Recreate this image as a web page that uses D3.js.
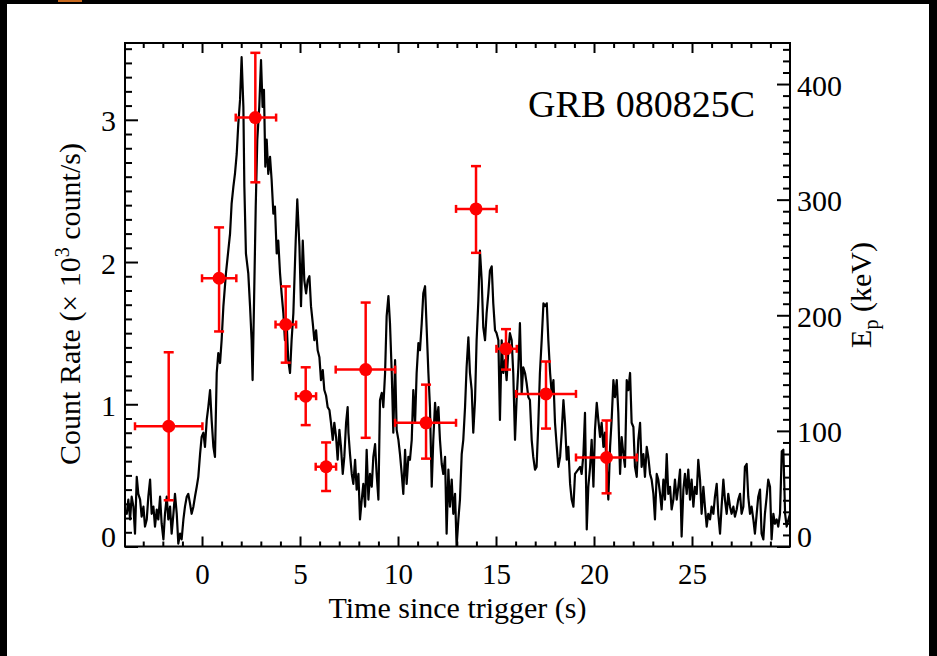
<!DOCTYPE html>
<html>
<head>
<meta charset="utf-8">
<script src="https://cdn.jsdelivr.net/npm/d3@7"></script>
<style>
  body { margin: 0; background: #fff; }
  svg { display: block; }
  text { font-family: "Liberation Serif", "Times New Roman", serif; fill: #000; }
</style>
</head>
<body>
<svg id="chart" width="937" height="656"></svg>
<script>
// Light curve of GRB 080825C: [time since trigger (s), count rate (10^3 count/s)]
const countRate = [
  [-3.93,0.25],[-3.84,0.23],[-3.76,0.33],[-3.67,0.19],[-3.59,0.35],[-3.50,0.28],[-3.42,0.09],[-3.33,0.49],
  [-3.25,0.37],[-3.16,0.33],[-3.08,0.21],[-2.99,0.28],[-2.91,0.14],[-2.82,0.19],[-2.74,0.35],[-2.65,0.47],
  [-2.57,0.23],[-2.48,0.28],[-2.40,0.14],[-2.31,0.26],[-2.23,0.19],[-2.14,0.35],[-2.06,0.16],[-1.97,0.05],
  [-1.89,0.23],[-1.80,0.35],[-1.72,0.19],[-1.63,0.28],[-1.55,0.09],[-1.46,0.23],[-1.38,0.37],[-1.29,0.23],
  [-1.21,0.02],[-1.12,0.09],[-1.04,0.05],[-0.95,0.19],[-0.87,0.28],[-0.78,0.35],[-0.70,0.37],[-0.61,0.30],
  [-0.53,0.23],[-0.44,0.28],[-0.36,0.35],[-0.27,0.42],[-0.19,0.49],[-0.10,0.65],[-0.02,0.77],[0.07,0.80],
  [0.15,0.70],[0.24,0.89],[0.32,0.98],[0.41,1.10],[0.49,0.89],[0.58,0.70],[0.66,0.63],[0.75,1.22],
  [0.83,1.36],[0.92,1.29],[1.00,1.45],[1.09,1.69],[1.22,1.92],[1.34,2.08],[1.43,2.20],[1.51,2.41],
  [1.60,2.53],[1.68,2.62],[1.77,2.76],[1.85,2.97],[1.94,3.14],[2.02,3.44],[2.11,3.09],[2.16,2.53],
  [2.24,2.06],[2.36,1.92],[2.45,1.69],[2.53,1.45],[2.58,1.17],[2.65,1.69],[2.74,2.39],[2.82,2.86],
  [2.92,3.09],[3.01,3.42],[3.09,3.09],[3.16,3.21],[3.23,2.67],[3.30,2.86],[3.38,2.62],[3.47,2.74],
  [3.55,2.58],[3.64,2.34],[3.72,2.39],[3.81,2.06],[3.89,2.15],[3.98,1.92],[4.06,1.78],[4.15,1.64],
  [4.23,1.45],[4.32,1.57],[4.40,1.31],[4.49,1.22],[4.57,1.45],[4.66,1.64],[4.78,2.15],[4.86,2.44],
  [4.97,2.11],[5.05,1.69],[5.14,2.15],[5.22,1.87],[5.31,1.78],[5.39,1.87],[5.48,1.90],[5.56,1.69],
  [5.65,1.57],[5.73,1.45],[5.82,1.52],[5.90,1.38],[5.99,1.33],[6.07,1.17],[6.16,1.24],[6.24,1.10],
  [6.33,1.06],[6.41,0.98],[6.50,0.96],[6.58,0.87],[6.67,0.75],[6.75,0.87],[6.84,0.77],[6.92,0.61],
  [7.01,0.82],[7.09,0.70],[7.18,0.51],[7.26,0.63],[7.35,0.87],[7.43,0.98],[7.47,0.80],[7.55,0.65],
  [7.64,0.51],[7.72,0.44],[7.81,0.61],[7.89,0.40],[7.98,0.51],[8.06,0.19],[8.15,0.33],[8.23,0.44],
  [8.32,0.28],[8.40,0.68],[8.49,0.33],[8.57,0.51],[8.66,0.42],[8.74,0.63],[8.83,0.72],[8.91,0.51],
  [9.00,0.33],[9.08,1.03],[9.17,1.08],[9.25,0.98],[9.34,1.22],[9.42,1.62],[9.51,1.76],[9.59,1.57],
  [9.68,1.22],[9.76,0.80],[9.85,1.31],[9.93,0.82],[10.02,0.75],[10.10,0.65],[10.19,0.51],[10.27,0.37],
  [10.36,0.68],[10.44,0.44],[10.53,0.63],[10.61,0.61],[10.70,0.75],[10.78,1.10],[10.87,0.87],[10.95,1.22],
  [11.04,1.43],[11.12,1.38],[11.21,1.57],[11.29,1.78],[11.38,1.83],[11.46,1.54],[11.55,1.22],[11.63,0.98],
  [11.72,0.42],[11.80,0.75],[11.89,1.01],[11.97,0.87],[12.06,0.98],[12.14,0.75],[12.23,0.58],[12.31,0.51],
  [12.40,0.63],[12.48,0.09],[12.57,0.54],[12.65,0.28],[12.74,0.47],[12.82,0.23],[12.91,0.37],[12.99,0.00],
  [13.08,0.19],[13.16,0.33],[13.25,0.65],[13.33,0.75],[13.42,0.98],[13.50,1.26],[13.59,1.47],[13.67,1.22],
  [13.76,1.10],[13.84,0.80],[13.93,1.03],[14.01,1.45],[14.10,1.73],[14.18,2.08],[14.27,1.87],[14.35,1.54],
  [14.44,1.45],[14.52,1.64],[14.61,1.78],[14.69,1.94],[14.78,1.97],[14.86,1.71],[14.95,1.52],[15.03,1.50],
  [15.12,1.45],[15.20,0.89],[15.29,1.45],[15.37,1.22],[15.46,1.31],[15.54,1.17],[15.63,1.38],[15.71,1.50],
  [15.80,1.45],[15.88,1.22],[15.97,0.75],[16.05,1.03],[16.14,1.26],[16.22,1.57],[16.31,1.08],[16.39,1.26],
  [16.48,1.22],[16.56,1.15],[16.65,1.05],[16.73,1.03],[16.82,0.75],[16.90,0.63],[16.99,0.54],[17.07,0.56],
  [17.16,0.87],[17.24,1.22],[17.33,1.45],[17.42,1.71],[17.50,1.69],[17.59,1.71],[17.67,1.45],[17.76,1.22],
  [17.84,1.08],[17.93,1.17],[18.01,0.87],[18.10,0.70],[18.18,0.56],[18.27,0.63],[18.35,0.80],[18.44,1.03],
  [18.52,0.87],[18.61,0.61],[18.69,0.70],[18.78,0.44],[18.86,0.33],[18.95,0.28],[19.03,0.51],[19.29,0.56],
  [19.37,0.51],[19.46,0.65],[19.54,0.94],[19.63,0.12],[19.71,0.42],[19.80,0.56],[19.88,0.75],[19.97,0.42],
  [20.05,0.82],[20.14,1.01],[20.22,0.89],[20.31,0.77],[20.39,0.87],[20.48,0.70],[20.56,0.80],[20.65,0.56],
  [20.73,0.33],[20.82,0.70],[20.90,0.89],[20.99,1.17],[21.07,1.05],[21.16,1.17],[21.24,0.94],[21.33,0.51],
  [21.41,0.77],[21.50,0.65],[21.58,0.56],[21.67,1.17],[21.75,1.10],[21.84,1.22],[21.92,0.87],[22.01,0.84],
  [22.09,0.56],[22.18,0.49],[22.26,0.75],[22.35,0.87],[22.43,0.56],[22.52,0.65],[22.60,0.49],[22.69,0.70],
  [22.77,0.63],[22.86,0.51],[22.94,0.47],[23.03,0.37],[23.11,0.19],[23.20,0.51],[23.28,0.47],[23.37,0.37],
  [23.45,0.26],[23.54,0.47],[23.62,0.33],[23.71,0.65],[23.79,0.37],[23.88,0.42],[23.96,0.26],[24.05,0.33],
  [24.13,0.47],[24.22,0.33],[24.30,0.42],[24.39,0.54],[24.47,0.07],[24.56,0.40],[24.64,0.51],[24.73,0.37],
  [24.81,0.54],[24.90,0.33],[24.98,0.47],[25.07,0.28],[25.15,0.42],[25.24,0.37],[25.32,0.61],[25.41,0.47],
  [25.49,0.23],[25.58,0.42],[25.66,0.28],[25.75,0.14],[25.83,0.23],[25.92,0.19],[26.00,0.28],[26.09,0.23],
  [26.17,0.35],[26.26,0.44],[26.34,0.23],[26.43,0.09],[26.51,0.28],[26.60,0.47],[26.68,0.33],[26.77,0.23],
  [26.85,0.37],[26.94,0.28],[27.02,0.23],[27.11,0.28],[27.19,0.21],[27.28,0.26],[27.36,0.33],[27.45,0.37],
  [27.53,0.23],[27.62,0.28],[27.70,0.56],[27.79,0.58],[27.87,0.35],[27.96,0.23],[28.04,0.28],[28.13,0.19],
  [28.21,0.09],[28.30,0.23],[28.38,0.35],[28.47,0.40],[28.55,0.09],[28.64,0.05],[28.72,0.23],[28.81,0.35],
  [28.89,0.47],[28.98,0.42],[29.06,0.05],[29.15,0.23],[29.23,0.16],[29.32,0.19],[29.40,0.14],[29.49,0.23],
  [29.58,0.67],[29.66,0.68],[29.75,0.23],[29.83,0.14],[29.92,0.19],[30.00,0.23]
];

// Time-resolved peak energy (keV) with its time bins and error ranges
const epTime   = [-1.70, 0.87, 2.72, 4.27, 5.29, 6.33, 8.35, 11.43, 13.98, 15.51, 17.55, 20.64];
const epTimeLo = [-3.42, 0.00, 1.72, 3.75, 4.79, 5.80, 6.82, 9.85, 12.96, 15.02, 16.03, 19.08];
const epTimeHi = [ 0.02, 1.75, 3.78, 4.80, 5.82, 6.84, 9.85, 12.96, 15.03, 16.06, 19.08, 22.18];
const epValue  = [104, 232, 371, 192, 130, 69, 153, 107, 292, 171, 132, 77];
const epLo     = [ 40, 186, 315, 159, 105, 48,  94,  76, 254, 153, 102, 46];
const epHi     = [168, 276, 427, 225, 155, 90, 211, 140, 329, 188, 160, 109];

// Axis ticks
const timeTicks = [0, 5, 10, 15, 20, 25];
const rateTicks = [0, 1, 2, 3];
const epTicks   = [0, 100, 200, 300, 400];

const W = 937, H = 656;
const plot = { left: 125, right: 790, top: 43, bottom: 546.5 };
const FONT = 30;

const x = d3.scaleLinear().domain([-3.93, 30]).range([plot.left, plot.right]);
const yRate = d3.scaleLinear().domain([0, 3.54]).range([plot.bottom, plot.top]);
const yEp = d3.scaleLinear().domain([0, 435.5]).range([plot.bottom, plot.top]);

const svg = d3.select("#chart");
svg.append("rect").attr("width", W).attr("height", H).attr("fill", "#fff");

// dark page edges
svg.append("rect").attr("x", 0).attr("y", 0).attr("width", W).attr("height", 4).attr("fill", "#000");
svg.append("rect").attr("x", 0).attr("y", 0).attr("width", 7).attr("height", H).attr("fill", "#000");
svg.append("rect").attr("x", 929).attr("y", 0).attr("width", 8).attr("height", H).attr("fill", "#000");
svg.append("rect").attr("x", 58).attr("y", 0).attr("width", 24).attr("height", 2).attr("fill", "#c8691e");

svg.append("defs").append("clipPath").attr("id", "plotClip")
  .append("rect")
  .attr("x", plot.left).attr("y", plot.top)
  .attr("width", plot.right - plot.left).attr("height", plot.bottom - plot.top);

// light curve
const line = d3.line().x(d => x(d[0])).y(d => yRate(d[1]));
svg.append("path")
  .datum(countRate)
  .attr("clip-path", "url(#plotClip)")
  .attr("d", line)
  .attr("fill", "none")
  .attr("stroke", "#000")
  .attr("stroke-width", 2.2)
  .attr("stroke-linejoin", "round");

// Ep points with error bars
const red = "#ff0000";
const ep = svg.append("g").attr("stroke", red).attr("stroke-width", 2.5);
epValue.forEach((v, i) => {
  const cx = x(epTime[i]), cy = yEp(v);
  const xl = x(epTimeLo[i]), xh = x(epTimeHi[i]);
  const yl = yEp(epLo[i]), yh = yEp(epHi[i]);
  ep.append("line").attr("x1", xl).attr("x2", xh).attr("y1", cy).attr("y2", cy);
  ep.append("line").attr("x1", xl).attr("x2", xl).attr("y1", cy - 4).attr("y2", cy + 4);
  ep.append("line").attr("x1", xh).attr("x2", xh).attr("y1", cy - 4).attr("y2", cy + 4);
  ep.append("line").attr("x1", cx).attr("x2", cx).attr("y1", yl).attr("y2", yh);
  ep.append("line").attr("x1", cx - 5).attr("x2", cx + 5).attr("y1", yl).attr("y2", yl);
  ep.append("line").attr("x1", cx - 5).attr("x2", cx + 5).attr("y1", yh).attr("y2", yh);
  ep.append("circle").attr("cx", cx).attr("cy", cy).attr("r", 6.5).attr("fill", red).attr("stroke", "none");
});

// axes
function styleAxis(g, size = FONT) {
  g.select(".domain").remove();
  g.selectAll(".tick line").attr("stroke", "#000").attr("stroke-width", 2);
  g.selectAll(".tick text")
    .attr("font-family", '"Liberation Serif", "Times New Roman", serif')
    .attr("font-size", size).attr("fill", "#000");
}

const xMinor = d3.range(-3, 31).filter(v => v % 5 !== 0);
const rateMinor = d3.range(1, 36).filter(v => v % 10 !== 0).map(v => v / 10);
const epMinor = d3.range(10, 436, 10).filter(v => v % 100 !== 0);

// bottom
svg.append("g").attr("transform", `translate(0,${plot.bottom})`)
  .call(d3.axisBottom(x).tickValues(xMinor).tickSize(-5).tickFormat("")).call(styleAxis);
svg.append("g").attr("transform", `translate(0,${plot.bottom})`)
  .call(d3.axisBottom(x).tickValues(timeTicks).tickSize(-10).tickPadding(17).tickFormat(d3.format("d")))
  .call(g => styleAxis(g, 29));
// top
svg.append("g").attr("transform", `translate(0,${plot.top})`)
  .call(d3.axisTop(x).tickValues(xMinor).tickSize(-5).tickFormat("")).call(styleAxis);
svg.append("g").attr("transform", `translate(0,${plot.top})`)
  .call(d3.axisTop(x).tickValues(timeTicks).tickSize(-10).tickFormat("")).call(styleAxis);
// left: count rate
svg.append("g").attr("transform", `translate(${plot.left},0)`)
  .call(d3.axisLeft(yRate).tickValues(rateMinor).tickSize(-7).tickFormat("")).call(styleAxis);
svg.append("g").attr("transform", `translate(${plot.left},0)`)
  .call(d3.axisLeft(yRate).tickValues(rateTicks).tickSize(-13).tickPadding(9).tickFormat(d3.format("d")))
  .call(styleAxis)
  .call(g => g.selectAll(".tick text").attr("dy", d => d === 0 ? "0em" : "0.37em"));
// right: peak energy
svg.append("g").attr("transform", `translate(${plot.right},0)`)
  .call(d3.axisRight(yEp).tickValues(epMinor).tickSize(-7).tickFormat("")).call(styleAxis);
svg.append("g").attr("transform", `translate(${plot.right},0)`)
  .call(d3.axisRight(yEp).tickValues(epTicks).tickSize(-13).tickPadding(7).tickFormat(d3.format("d")))
  .call(styleAxis)
  .call(g => g.selectAll(".tick text").attr("dy", d => d === 0 ? "0em" : "0.37em"));

// frame
svg.append("rect")
  .attr("x", plot.left).attr("y", plot.top)
  .attr("width", plot.right - plot.left).attr("height", plot.bottom - plot.top)
  .attr("fill", "none").attr("stroke", "#000").attr("stroke-width", 2);

// labels
svg.append("text")
  .attr("x", 755).attr("y", 117).attr("text-anchor", "end")
  .attr("font-size", 38).text("GRB 080825C");

svg.append("text")
  .attr("x", (plot.left + plot.right) / 2).attr("y", 618).attr("text-anchor", "middle")
  .attr("font-size", FONT).text("Time since trigger (s)");

const yLabel = svg.append("text")
  .attr("transform", "translate(80,304) rotate(-90)")
  .attr("text-anchor", "middle").attr("font-size", FONT);
yLabel.append("tspan").text("Count Rate (× 10");
yLabel.append("tspan").attr("font-size", 20).attr("dy", -11).text("3");
yLabel.append("tspan").attr("dy", 11).text(" count/s)");

const epLabel = svg.append("text")
  .attr("transform", "translate(871,295) rotate(-90)")
  .attr("text-anchor", "middle").attr("font-size", FONT);
epLabel.append("tspan").text("E");
epLabel.append("tspan").attr("font-size", 20).attr("dy", 7).text("p");
epLabel.append("tspan").attr("dy", -7).text(" (keV)");
</script>
</body>
</html>
